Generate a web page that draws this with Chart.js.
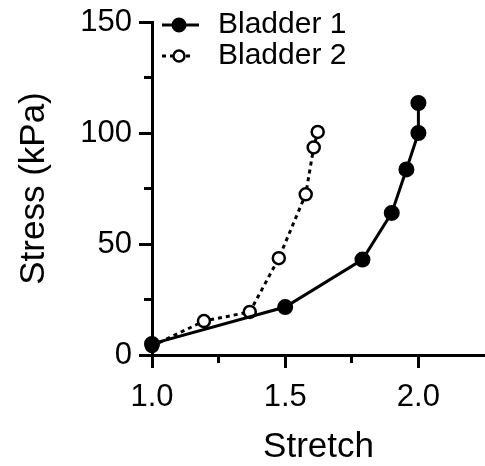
<!DOCTYPE html>
<html>
<head>
<meta charset="utf-8">
<script src="https://cdn.jsdelivr.net/npm/chart.js@4"></script>
<style>
  html, body { margin: 0; padding: 0; background: #fff; overflow: hidden; }
  #wrap { width: 485px; height: 466px; }
</style>
</head>
<body>
<div id="wrap"><canvas id="chart"></canvas></div>
<script>
const seriesNames = ['Bladder 1', 'Bladder 2'];
const stretch1 = [1.0, 1.5, 1.79, 1.9, 1.955, 2.0, 2.0];
const stress1 = [5, 21.6, 43, 64, 83.6, 100, 113.5];
const stretch2 = [1.0, 1.195, 1.367, 1.476, 1.577, 1.607, 1.622];
const stress2 = [4, 15.3, 19.4, 43.6, 72.4, 93.5, 100.5];

const xTicks = [1.0, 1.25, 1.5, 1.75, 2.0];
const xLabels = ['1.0', '', '1.5', '', '2.0'];
const yTicks = [0, 25, 50, 75, 100, 125, 150];
const yLabels = ['0', '', '50', '', '100', '', '150'];

const FONT = 'Arial, "Liberation Sans", sans-serif';

const toPoints = (xs, ys) => xs.map((x, i) => ({ x: x, y: ys[i] }));

// legend drawn as line + marker, like the original figure
const lineLegend = {
  id: 'lineLegend',
  afterDraw(chart) {
    const ctx = chart.ctx;
    const area = chart.chartArea;
    chart.data.datasets.forEach((ds, i) => {
      const x = area.left + 10;
      const y = area.top + 3 + i * 31;
      ctx.save();
      ctx.strokeStyle = ds.borderColor;
      ctx.lineWidth = ds.borderWidth;
      ctx.setLineDash(ds.borderDash || []);
      ctx.beginPath();
      ctx.moveTo(x, y);
      ctx.lineTo(x + (ds.borderDash ? 29 : 37), y);
      ctx.stroke();
      ctx.setLineDash([]);
      ctx.beginPath();
      ctx.arc(x + 17, y, ds.pointRadius - 0.5, 0, Math.PI * 2);
      ctx.fillStyle = ds.pointBackgroundColor;
      ctx.fill();
      ctx.lineWidth = ds.pointBorderWidth;
      ctx.strokeStyle = ds.pointBorderColor;
      ctx.stroke();
      ctx.fillStyle = '#000';
      ctx.font = '30px ' + FONT;
      ctx.textBaseline = 'middle';
      ctx.fillText(ds.label, x + 56, y);
      ctx.restore();
    });
  }
};

new Chart(document.getElementById('chart'), {
  type: 'scatter',
  data: {
    datasets: [{
      label: seriesNames[0],
      data: toPoints(stretch1, stress1),
      showLine: true,
      borderColor: '#000',
      borderWidth: 3,
      pointRadius: 7,
      pointBorderWidth: 2,
      pointBackgroundColor: '#000',
      pointBorderColor: '#000',
      clip: false
    }, {
      label: seriesNames[1],
      data: toPoints(stretch2, stress2),
      showLine: true,
      borderColor: '#000',
      borderWidth: 3,
      borderDash: [4, 4],
      pointRadius: 6,
      pointBorderWidth: 2.5,
      pointBackgroundColor: '#fff',
      pointBorderColor: '#000',
      clip: false
    }]
  },
  options: {
    responsive: true,
    maintainAspectRatio: false,
    animation: false,
    layout: { autoPadding: false, padding: { top: 22, right: 0, bottom: 0, left: 0 } },
    plugins: {
      legend: { display: false },
      tooltip: { enabled: false }
    },
    scales: {
      x: {
        type: 'linear',
        min: 1.0,
        max: 2.25,
        afterBuildTicks: (scale) => { scale.ticks = xTicks.map(v => ({ value: v })); },
        afterFit: (scale) => {
          scale.height = 111;
          scale.paddingLeft = 0;
          scale.paddingRight = 0;
        },
        border: { display: true, color: '#000', width: 3 },
        grid: {
          drawOnChartArea: false,
          drawTicks: true,
          tickLength: 13,
          tickWidth: 3,
          tickColor: '#000',
          tickBorderDash: (ctx) => xLabels[ctx.index] ? [] : [6, 50]
        },
        ticks: {
          color: '#000',
          padding: 11,
          maxRotation: 0,
          font: { family: FONT, size: 31 },
          callback: (v, i) => xLabels[i]
        },
        title: {
          display: true,
          text: 'Stretch',
          color: '#000',
          font: { family: FONT, size: 35 },
          padding: { top: 0, bottom: -2 }
        }
      },
      y: {
        type: 'linear',
        min: 0,
        max: 150,
        afterBuildTicks: (scale) => { scale.ticks = yTicks.map(v => ({ value: v })); },
        afterFit: (scale) => {
          scale.width = 152;
          scale.paddingTop = 0;
          scale.paddingBottom = 0;
        },
        border: { display: true, color: '#000', width: 3 },
        grid: {
          drawOnChartArea: false,
          drawTicks: true,
          tickLength: 13,
          tickWidth: 3,
          tickColor: '#000',
          tickBorderDash: (ctx) => yLabels[ctx.index] ? [] : [0, 5, 7, 50]
        },
        ticks: {
          color: '#000',
          padding: 7,
          font: { family: FONT, size: 31 },
          callback: (v, i) => yLabels[i]
        },
        title: {
          display: true,
          text: 'Stress (kPa)',
          color: '#000',
          font: { family: FONT, size: 35 },
          padding: { top: 13, bottom: 0 }
        }
      }
    }
  },
  plugins: [lineLegend]
});
</script>
</body>
</html>
